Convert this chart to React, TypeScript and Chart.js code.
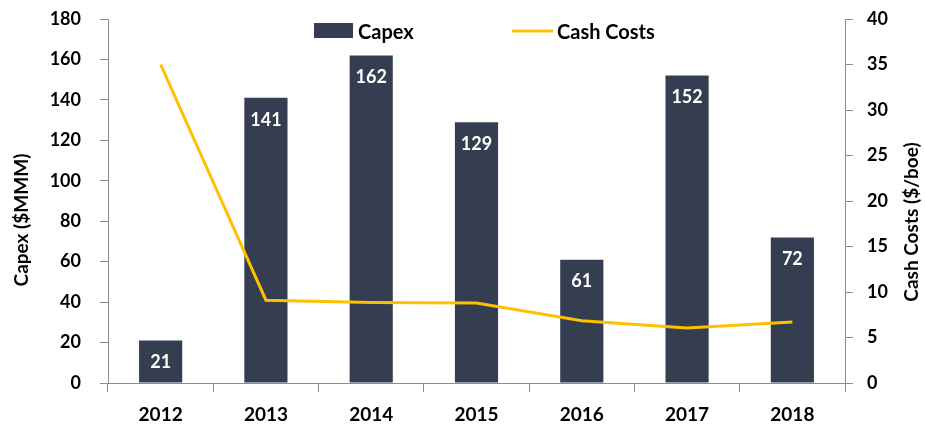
import React, { useEffect, useRef } from "react";
import { Chart, registerables } from "chart.js";

Chart.register(...registerables);

const categories = ["2012", "2013", "2014", "2015", "2016", "2017", "2018"];
const capex = [21, 141, 162, 129, 61, 152, 72];
const cashCosts = [35, 9.1, 8.85, 8.8, 6.85, 6.05, 6.7];
const leftTitle = "Capex ($MMM)";
const rightTitle = "Cash Costs ($/boe)";

const FONT = "Lato, 'Open Sans', sans-serif";
const BAR_COLOR = "#343E50";
const LINE_COLOR = "#FFC000";
const AXIS_COLOR = "#8C8C8C";

const labelPlugin = {
  id: "barLabels",
  afterDatasetsDraw(chart: any) {
    const ctx = chart.ctx;
    const meta = chart.getDatasetMeta(0);
    ctx.save();
    ctx.fillStyle = "#FFFFFF";
    ctx.font = `bold 18px ${FONT}`;
    ctx.textAlign = "center";
    ctx.textBaseline = "middle";
    meta.data.forEach((el: any, i: number) => {
      ctx.fillText(String(capex[i]), el.x, el.y + 22);
    });
    ctx.restore();
  },
};

const legendPlugin = {
  id: "customLegend",
  afterDraw(chart: any) {
    const ctx = chart.ctx;
    ctx.save();
    ctx.fillStyle = BAR_COLOR;
    ctx.fillRect(314, 23, 39, 15);
    ctx.strokeStyle = LINE_COLOR;
    ctx.lineWidth = 3;
    ctx.beginPath();
    ctx.moveTo(512, 31);
    ctx.lineTo(553, 31);
    ctx.stroke();
    ctx.fillStyle = "#000000";
    ctx.font = `bold 20px ${FONT}`;
    ctx.textAlign = "left";
    ctx.textBaseline = "alphabetic";
    ctx.fillText("Capex", 358, 38.5);
    ctx.fillText("Cash Costs", 557, 38.5);

    // axis titles, both reading bottom-to-top
    ctx.font = `bold 19px ${FONT}`;
    ctx.textAlign = "center";
    ctx.textBaseline = "middle";
    ctx.save();
    ctx.translate(22, 220);
    ctx.rotate(-Math.PI / 2);
    ctx.fillText(leftTitle, 0, 0);
    ctx.restore();
    ctx.save();
    ctx.translate(912, 222);
    ctx.rotate(-Math.PI / 2);
    ctx.fillText(rightTitle, 0, 0);
    ctx.restore();
    ctx.restore();
  },
};

function zeroPad(scale: any) {
  scale.paddingTop = 0;
  scale.paddingBottom = 0;
  scale.paddingLeft = 0;
  scale.paddingRight = 0;
}

export default function App() {
  const ref = useRef<HTMLCanvasElement>(null);
  useEffect(() => {
    document.body.style.margin = "0";
    const chart = new Chart(ref.current!, {
      type: "bar",
      data: {
        labels: categories,
        datasets: [
          {
            type: "bar",
            label: "Capex",
            data: capex,
            backgroundColor: BAR_COLOR,
            yAxisID: "y",
            barPercentage: 0.41,
            categoryPercentage: 1,
            order: 2,
          },
          {
            type: "line",
            label: "Cash Costs",
            data: cashCosts,
            borderColor: LINE_COLOR,
            backgroundColor: LINE_COLOR,
            borderWidth: 3,
            pointRadius: 0,
            tension: 0,
            yAxisID: "y1",
            order: 1,
          } as any,
        ],
      },
      options: {
        responsive: false,
        animation: false,
        layout: { padding: { top: 19, left: 0, right: 0, bottom: 0 } },
        plugins: {
          legend: { display: false },
          tooltip: { enabled: false },
        },
        scales: {
          x: {
            offset: true,
            grid: {
              offset: true,
              drawOnChartArea: false,
              drawTicks: true,
              tickLength: 9,
              color: AXIS_COLOR,
            },
            border: { display: true, color: AXIS_COLOR },
            ticks: {
              color: "#000",
              font: { family: FONT, size: 19, weight: "bold" },
              padding: 11,
              maxRotation: 0,
            },
            afterFit(scale: any) {
              scale.height = 44;
              zeroPad(scale);
            },
          },
          y: {
            position: "left",
            min: 0,
            max: 180,
            ticks: {
              stepSize: 20,
              color: "#000",
              font: { family: FONT, size: 18, weight: "bold" },
              padding: 19,
            },
            grid: {
              drawOnChartArea: false,
              drawTicks: true,
              tickLength: 8,
              color: AXIS_COLOR,
            },
            border: { display: true, color: AXIS_COLOR },
            afterFit(scale: any) {
              scale.width = 108;
              zeroPad(scale);
            },
          },
          y1: {
            position: "right",
            min: 0,
            max: 40,
            ticks: {
              stepSize: 5,
              color: "#000",
              font: { family: FONT, size: 18, weight: "bold" },
              padding: 14,
            },
            grid: {
              drawOnChartArea: false,
              drawTicks: true,
              tickLength: 8,
              color: AXIS_COLOR,
            },
            border: { display: true, color: AXIS_COLOR },
            afterFit(scale: any) {
              scale.width = 80;
              zeroPad(scale);
            },
          },
        },
      },
      plugins: [labelPlugin, legendPlugin],
    });
    return () => chart.destroy();
  }, []);
  return (
    <div style={{ width: 925, height: 427 }}>
      <canvas ref={ref} width={925} height={427} style={{ display: "block" }} />
    </div>
  );
}
